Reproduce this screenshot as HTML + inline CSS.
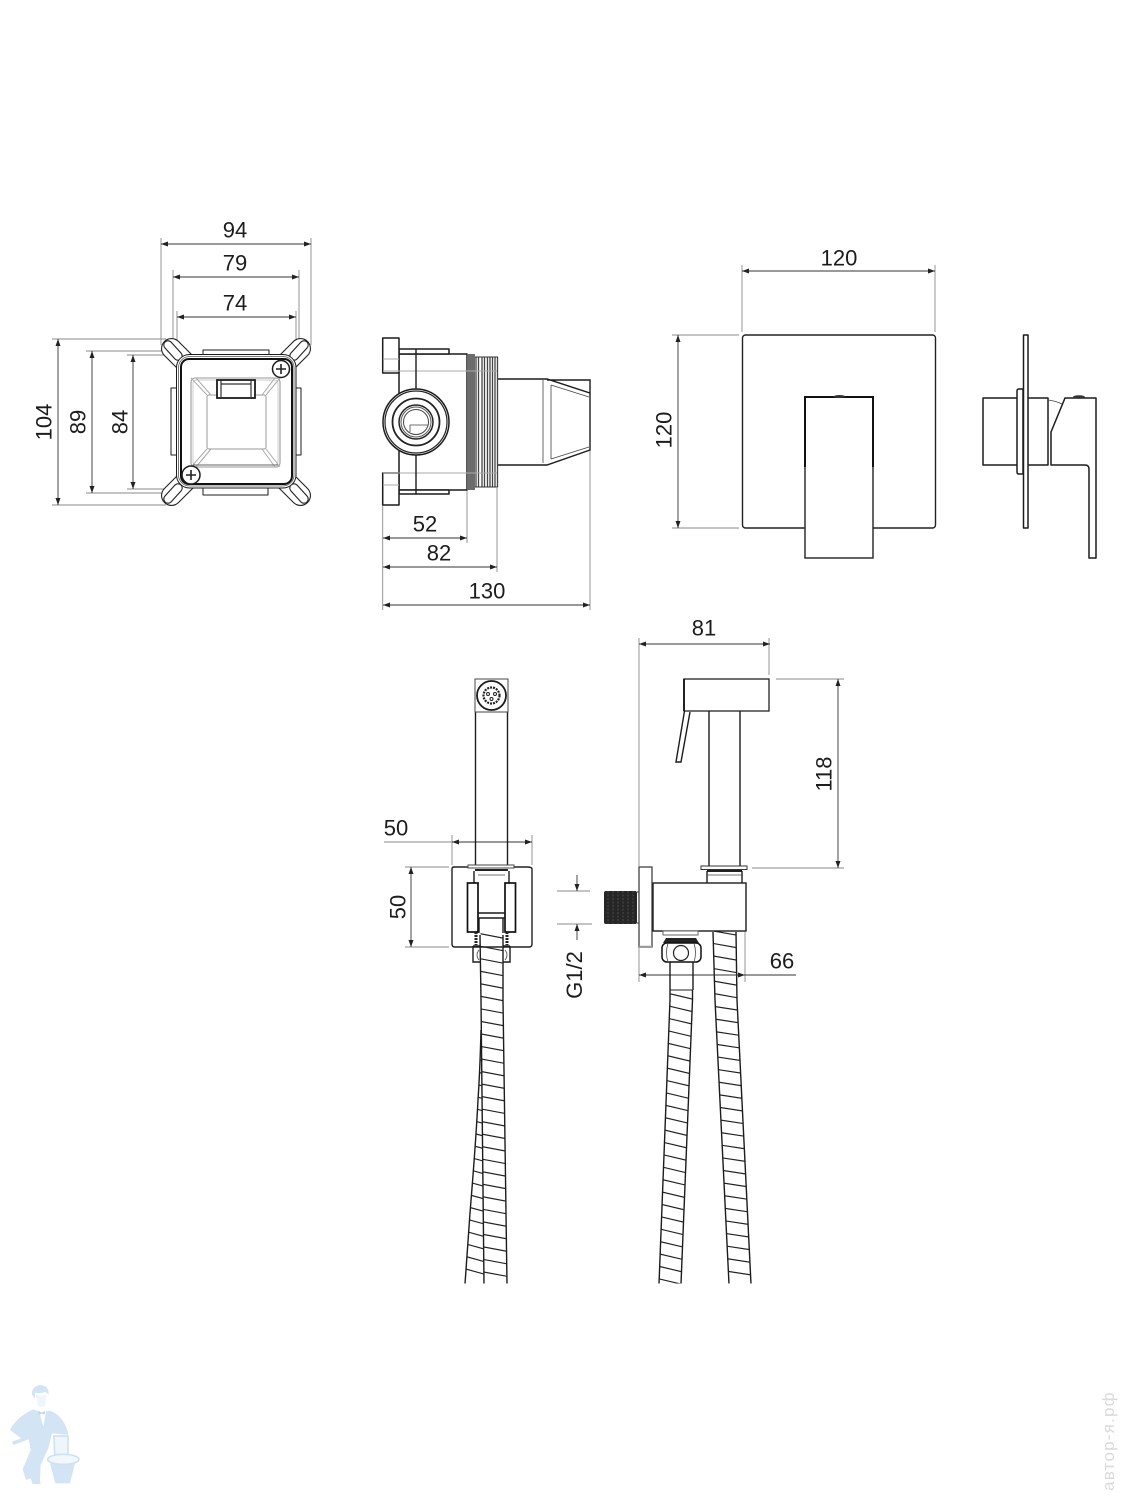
<!DOCTYPE html>
<html><head><meta charset="utf-8"><style>
html,body{margin:0;padding:0;background:#fff}
svg{display:block}
text{font-family:"Liberation Sans",sans-serif;font-size:22px;fill:#1c1c1c;text-anchor:middle}
.d{stroke:#333;stroke-width:.9;fill:none}
.e{stroke:#8a8a8a;stroke-width:.9;fill:none}
.a{marker-start:url(#ar);marker-end:url(#ar)}
.b{stroke:#1c1c1c;stroke-width:1.5;fill:#fff;stroke-linejoin:round}
.t{stroke:#444;stroke-width:.8;fill:none}
.g{stroke:#aaa;stroke-width:1;fill:none}
.h{stroke:#1c1c1c;stroke-width:1.4;fill:none}
.r{stroke:#222;stroke-width:22;stroke-dasharray:1.2 11.3;fill:none}
</style></head><body>
<svg width="1125" height="1500" viewBox="0 0 1125 1500" xmlns="http://www.w3.org/2000/svg">
<defs>
<marker id="ar" markerUnits="userSpaceOnUse" viewBox="0 0 7 5" refX="7" refY="2.5" markerWidth="7" markerHeight="5" orient="auto-start-reverse"><path d="M0 0L7 2.5L0 5z" fill="#222"/></marker>
<clipPath id="hc"><rect x="440" y="900" width="340" height="383.5"/></clipPath>
<g id="lug">
<line x1="171.500" y1="348.500" x2="192" y2="369" stroke="#222" stroke-width="21" stroke-linecap="round"/>
<line x1="171.500" y1="348.500" x2="192" y2="369" stroke="#fff" stroke-width="18.800" stroke-linecap="round"/>
<line x1="168" y1="345" x2="178" y2="356" stroke="#222" stroke-width="9.500" stroke-linecap="round"/>
<line x1="168" y1="345" x2="178" y2="356" stroke="#fff" stroke-width="7.300" stroke-linecap="round"/>
</g>
</defs>

<!-- View 1 dims -->
<path class="e" d="M161 238V345M311 238V345M173 270V360M299 270V360M177 311V356M296 311V356M52 339H166M52 505H166M86 351H162M86 493H162M127 355H170M127 489H170"/>
<path class="d a" d="M161 244H311"/><path class="d a" d="M173 277H299"/><path class="d a" d="M177 317H296"/>
<path class="d a" d="M58 339V505"/><path class="d a" d="M92 351V493"/><path class="d a" d="M133 355V489"/>
<text x="235" y="237.500">94</text><text x="235" y="270.500">79</text><text x="235" y="310.500">74</text>
<text transform="translate(51.500,422) rotate(-90)">104</text><text transform="translate(85.500,422) rotate(-90)">89</text><text transform="translate(127.500,422) rotate(-90)">84</text>

<!-- View 1 body -->
<use href="#lug"/><use href="#lug" transform="translate(472,0) scale(-1,1)"/><use href="#lug" transform="translate(0,844) scale(1,-1)"/><use href="#lug" transform="translate(472,844) scale(-1,-1)"/>
<path class="b" style="stroke-width:1" d="M203 355V350H269V355M203 488V495H268V488M177 388H171V455H177M296 388H301V455H296"/>
<rect x="176.500" y="354.500" width="119.500" height="133.500" rx="13" class="b" style="stroke-width:1"/>
<rect x="178.500" y="356.500" width="115.500" height="129.500" rx="11" fill="none" stroke="#555" stroke-width=".8"/>
<rect x="181" y="359" width="111" height="125" rx="8" fill="#fff" stroke="#111" stroke-width="2"/>
<rect x="191" y="378" width="89" height="89" rx="4" fill="#fff" stroke="#999" stroke-width="1.100"/>
<rect x="193" y="380" width="85" height="85" rx="3" fill="none" stroke="#bbb" stroke-width=".7"/>
<rect x="207" y="395" width="59" height="54" rx="2" fill="none" stroke="#999" stroke-width="1"/>
<path class="g" d="M191 378L207 395M280 378L266 395M191 467L207 449M280 467L266 449M196 378L211 395M275 378L262 395M196 467L211 449M275 467L262 449"/>
<path d="M193 465H278" stroke="#666" stroke-width="1" fill="none"/>
<rect x="217" y="380" width="38" height="18" fill="#fff" stroke="#1c1c1c" stroke-width="1.800"/>
<path d="M221 380V398M251 380V398M221 384H251" stroke="#333" stroke-width="1.200" fill="none"/>
<circle cx="281" cy="369" r="8.500" class="b"/><path d="M276 369H286M281 364V374" stroke="#222" stroke-width="1.600"/>
<circle cx="191" cy="475" r="9" class="b"/><path d="M186 475H196M191 470V480" stroke="#222" stroke-width="1.600"/>

<!-- View 2 -->
<path class="e" d="M382.700 506V610M467 490V543M497 488V572M590 450V610"/>
<path class="d a" d="M383 538H467"/><path class="d a" d="M383 567H497"/><path class="d a" d="M383 605H590"/>
<text x="425" y="531.500">52</text><text x="439" y="560.500">82</text><text x="487" y="598.500">130</text>
<path class="t" d="M543 380V463M551 385V459M551 385L589 397M551 459L589 447"/>
<path class="h" d="M498 379H547L590 393V380H547M498 465H547L590 450V393"/>
<rect x="399" y="354" width="68" height="136" class="b"/>
<path class="b" d="M399 349H449V354H399zM399 490H449V494H399z"/>
<rect x="382.700" y="338" width="16.300" height="35" class="b"/><rect x="382.700" y="473" width="16.300" height="32" class="b"/>
<path class="g" d="M383 359H399M383 485H399M383 371H497M383 473H497"/>
<rect x="467" y="357" width="31" height="130" fill="#fff"/>
<rect x="467" y="354" width="8" height="136" fill="#6c6c6c"/>
<path d="M476 357.500V486.500M478.500 357.500V486.500M482 357V487M484.500 357V487M487.500 357V487M490 357V487M492.500 357V487M495 357V487M497.500 357V487" stroke="#444" stroke-width="1.300" fill="none"/>
<path d="M475 357H498M475 487H498" stroke="#333" stroke-width="1" fill="none"/>
<path class="g" d="M467 371H497M467 473H497"/>
<path class="h" d="M416 349V390M416 453V494"/>
<circle cx="416" cy="422" r="33" class="b"/>
<circle cx="416" cy="422" r="31" fill="none" stroke="#222" stroke-width="1.200"/>
<circle cx="416" cy="422" r="23.500" fill="none" stroke="#222" stroke-width="1.800"/>
<circle cx="416" cy="422" r="17" fill="none" stroke="#222" stroke-width="1.500"/>
<circle cx="416" cy="422" r="15" fill="none" stroke="#555" stroke-width="1"/>
<circle cx="416" cy="422" r="12.500" fill="none" stroke="#444" stroke-width="1"/>
<path class="t" d="M410 432V425H428"/>

<!-- Front view -->
<path class="e" d="M742 265V332M935 265V332M672 335H739M672 528H739"/>
<path class="d a" d="M742 271H935"/><path class="d a" d="M678 335V528"/>
<text x="839" y="265.500">120</text><text transform="translate(671.500,430) rotate(-90)">120</text>
<rect x="742.500" y="335" width="193" height="193" rx="3" fill="#fff" stroke="#222" stroke-width="1.400"/>
<rect x="805" y="397" width="68" height="161" fill="#fff" stroke="#222" stroke-width="1.400"/>
<path d="M805 467V397H873V467" fill="none" stroke="#111" stroke-width="2"/>
<ellipse cx="839.500" cy="396.500" rx="6" ry="1.500" fill="#333"/>

<!-- Side view -->
<rect x="983" y="398" width="65" height="67" class="b"/>
<rect x="1023.500" y="335" width="4.500" height="193" class="b"/>
<path class="b" d="M1023 389H1019Q1017 389 1017 391V472Q1017 474 1019 474H1023z"/>
<path class="b" d="M1051 432L1065 398H1096V558H1089V469Q1089 465 1085 465H1051z"/>
<path class="t" d="M1048 400Q1056 401 1062 404"/>
<ellipse cx="1079" cy="397" rx="6" ry="1.800" fill="#333"/>

<!-- Hoses -->
<g clip-path="url(#hc)">
<path class="r" transform="translate(0,-96.800) skewY(11.300)" d="M491.500 1048.500L489 1111L476 1283"/>
<path class="h" d="M481 1030Q480 1070 478 1100Q476 1140 470 1213L465 1284"/>
<path fill="#fff" d="M480 935L482 1000L484 1284H507L503 1000L503 935z"/>
<path class="r" transform="translate(0,-98.300) skewY(11.300)" d="M491.500 935.400L492 1010L495.500 1290"/>
<path class="h" d="M480 935L481 1000L484 1284M503 935V1000L507 1284"/>
<path class="r" transform="translate(0,-136.200) skewY(11.300)" d="M681 995.900L670 1290"/>
<path class="h" d="M670 990V1000L659 1284M692.500 990V1000L681 1284"/>
<path class="r" transform="translate(0,-144.900) skewY(11.300)" d="M724.500 932.500L726 1000L740 1290"/>
<path class="h" d="M713 932L715 1000L729 1284M736 932L737 1000L751 1284"/>
</g>

<!-- Bottom left view -->
<path class="e" d="M452 835V865M532 835V865M405 867H449M405 947H449M384 842H452"/>
<path class="d a" d="M452 842H532"/><path class="d a" d="M411 867V947"/>
<text x="396" y="835.500">50</text><text transform="translate(405.500,907) rotate(-90)">50</text>
<path class="h" d="M475.500 712V866M507.500 712V866"/>
<rect x="475" y="679" width="33" height="33" fill="#fff" stroke="#444" stroke-width="1"/>
<circle cx="491.500" cy="695.500" r="14.500" fill="#fff" stroke="#1c1c1c" stroke-width="1.800"/>
<circle cx="491.500" cy="695.500" r="8" fill="#fff" stroke="#222" stroke-width="2.200" stroke-dasharray="2 1"/>
<circle cx="488" cy="694" r="1.500" fill="none" stroke="#222"/><circle cx="495" cy="694" r="1.500" fill="none" stroke="#222"/><circle cx="491.500" cy="699" r="1.500" fill="none" stroke="#222"/>
<path d="M457 867H527Q532 867 532 869V944Q532 947 529 947H455Q452 947 452 944V869Q452 867 454 867z" fill="none" stroke="#222" stroke-width="1.400"/>
<rect x="468" y="865" width="46" height="3" fill="#fff" stroke="#444" stroke-width="1"/>
<path d="M475 870H508" stroke="#222" stroke-width="2"/>
<path class="h" d="M474 871V883M509 871V883"/>
<path class="t" d="M478 875H505"/>
<rect x="467.500" y="883" width="10.500" height="49" fill="#fff" stroke="#111" stroke-width="1.700"/>
<rect x="505" y="883" width="10.500" height="49" fill="#fff" stroke="#111" stroke-width="1.700"/>
<path class="h" d="M478 913H505M478 918H505M479 918V933M503 918V933"/>
<path class="h" d="M473 946H480M503 946H510M473 946V962H480M510 946V962H503"/>
<path d="M476 932V945M507 932V945" stroke="#222" stroke-width="3" stroke-dasharray="2 1"/>
<path class="t" d="M479 950Q475 955 479 960M505 950Q509 955 505 960"/>

<!-- Bottom right view -->
<path class="e" d="M639 638V866M769 638V675M776 679H844M752 868H844M557 891H590M557 924H592M639 948V982M745 932V982"/>
<path class="d a" d="M639 644H770"/><path class="d a" d="M838 679V868"/>
<path class="d" d="M639 975H796" marker-start="url(#ar)"/>
<path d="M745 975L738 972.500V977.500z" fill="#222"/>
<text x="704" y="635.500">81</text><text transform="translate(831.500,774) rotate(-90)">118</text><text x="782" y="968.500">66</text>
<path class="d" d="M577 875V891" marker-end="url(#ar)"/><path class="d" d="M577 940V924" marker-end="url(#ar)"/>
<text transform="translate(582,975) rotate(-90)">G1/2</text>
<rect x="684" y="679" width="85" height="32" fill="#fff" stroke="#222" stroke-width="1.300"/>
<path d="M684 679V711" stroke="#111" stroke-width="1.800"/>
<path class="h" d="M684.500 711L676 762H681L690 712"/>
<path class="h" d="M709 711V866M740 711V866"/>
<rect x="701" y="866" width="46" height="3.500" fill="#fff" stroke="#333" stroke-width="1"/>
<path d="M707 871H742" stroke="#222" stroke-width="2"/>
<path class="h" d="M707 871V883M742 871V883"/><path class="t" d="M707 875H742"/>
<rect x="653" y="883" width="93" height="48" fill="#fff" stroke="#1c1c1c" stroke-width="1.400"/>
<rect x="639" y="867" width="13" height="80" fill="#fff" stroke="#333" stroke-width="1.200"/>
<path d="M639 946.500H652" stroke="#999" stroke-width="1.500"/>
<rect x="604" y="891" width="33" height="33" rx="2" fill="#262626"/>
<path d="M608 891V924M613 891V924M618 891V924M623 891V924M628 891V924M633 891V924" stroke="#555" stroke-width=".8" stroke-dasharray="2 1.500"/>
<path d="M637 892H639M637 923H639" stroke="#333"/>
<rect x="663" y="931" width="35" height="4" fill="#fff" stroke="#666" stroke-width="1"/>
<path d="M666 938H696L699 943H663z" fill="#222"/>
<rect x="662" y="943" width="39" height="19" rx="5" fill="#fff" stroke="#111" stroke-width="1.500"/>
<circle cx="681" cy="953" r="7.500" fill="none" stroke="#222" stroke-width="1.200"/>
<path class="t" d="M668 943Q665 953 668 962M694 943Q697 953 694 962"/>
<path class="h" d="M670 962V990M693 962V990"/>
<path d="M670 990H693" stroke="#222" stroke-width="1"/>

<!-- Watermarks -->
<g transform="translate(0,1380) scale(.3333)">
<g fill="#d3e5f4">
<path d="M96 44Q94 18 122 15Q148 18 146 44L136 36Q120 42 106 38L104 56z"/>
<path d="M100 88L118 94L130 140L138 94L150 92Q195 110 205 165L156 160L145 205L122 255L120 300L122 312H98L92 295L78 300L68 268L92 210L85 170L62 175L52 150Q70 115 100 88z"/>
<path d="M100 88Q50 110 30 150L60 172L85 158z"/>
</g>
<path d="M38 190L125 158" stroke="#d3e5f4" stroke-width="11" fill="none"/>
<path d="M108 44Q122 50 140 44L136 74Q125 88 114 76z" fill="#eef5fb"/>
<path d="M116 93L125 98L135 93L134 104L125 100L116 104z" fill="#b9d3ea"/>
<path d="M162 168H204V224H164z" fill="#eef5fb" stroke="#cfe2f2" stroke-width="5"/>
<path d="M150 250L166 310H210L225 250z" fill="#d3e5f4"/>
<ellipse cx="190" cy="238" rx="47" ry="15" fill="#f2f7fc" stroke="#cfe2f2" stroke-width="5"/>
</g>
<text transform="translate(1114,1441) rotate(-90)" style="font-size:17px;letter-spacing:1.2px;fill:#dadada">автор-я.рф</text>
</svg>
</body></html>
